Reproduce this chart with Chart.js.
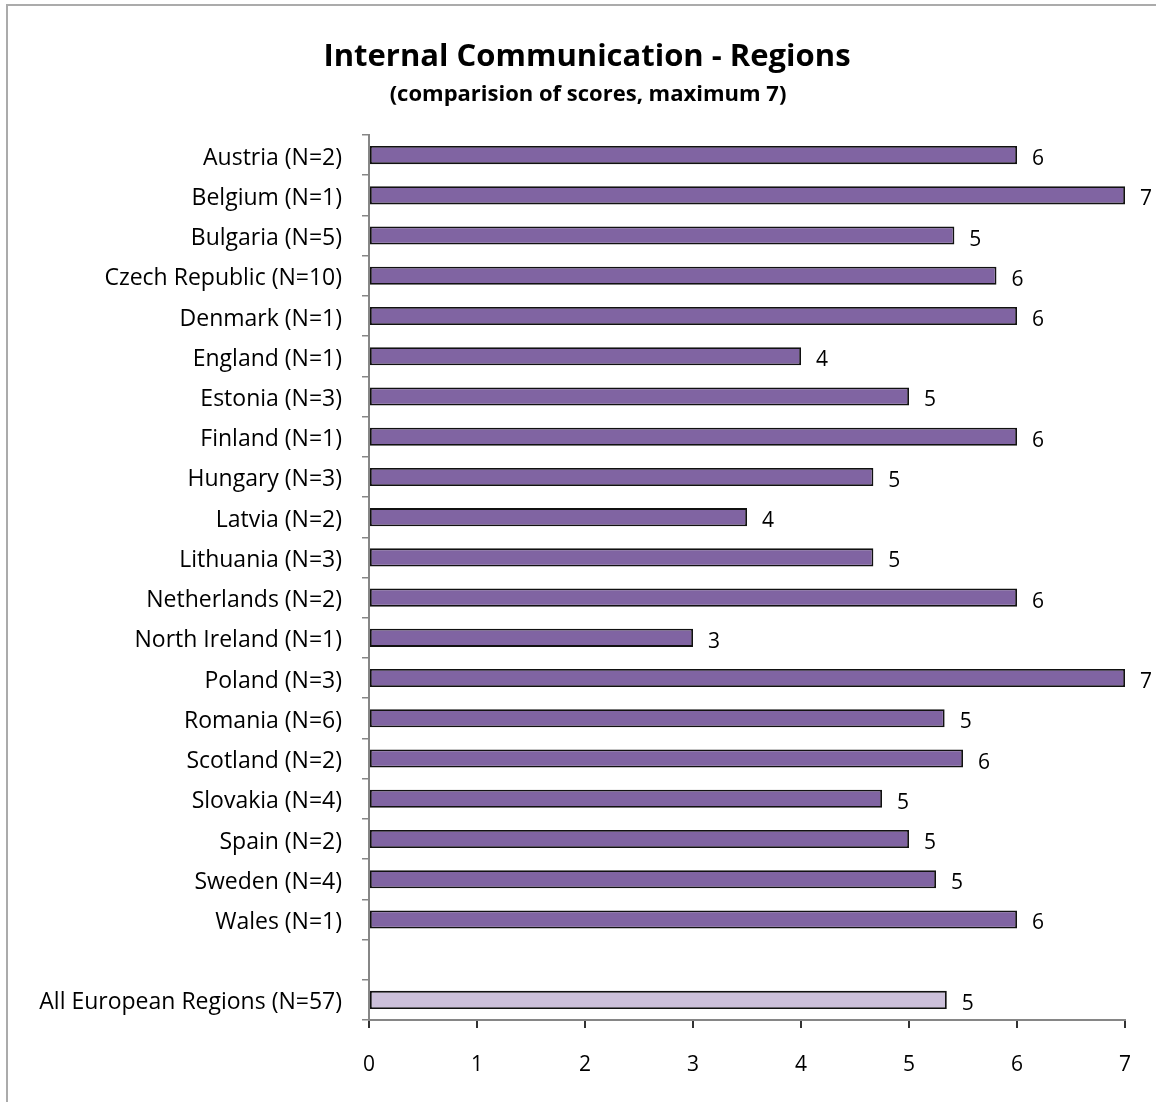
<!DOCTYPE html>
<html>
<head>
<meta charset="utf-8">
<script src="https://cdn.jsdelivr.net/npm/chart.js@4/dist/chart.umd.min.js"></script>
<style>
  body { margin: 0; background: #fff; }
  #frame { position: absolute; left: 6px; top: 4px; width: 1200px; height: 1200px;
           border-left: 2px solid #ababab; border-top: 2px solid #ababab; }
  #wrap { position: absolute; left: 0; top: 0; width: 1156px; height: 1102px; }
</style>
</head>
<body>
<div id="frame"></div>
<div id="wrap"><canvas id="regionsChart"></canvas></div>
<script>
// Region names with sample size, the blank entry leaves a gap before the overall bar
var regions = ["Austria (N=2)", "Belgium (N=1)", "Bulgaria (N=5)", "Czech Republic (N=10)",
    "Denmark (N=1)", "England (N=1)", "Estonia (N=3)", "Finland (N=1)", "Hungary (N=3)",
    "Latvia (N=2)", "Lithuania (N=3)", "Netherlands (N=2)", "North Ireland (N=1)",
    "Poland (N=3)", "Romania (N=6)", "Scotland (N=2)", "Slovakia (N=4)", "Spain (N=2)",
    "Sweden (N=4)", "Wales (N=1)", "", "All European Regions (N=57)"];

// Average scores
var scores = [6, 7, 5.42, 5.81, 6, 4, 5, 6, 4.67, 3.5, 4.67, 6, 3, 7, 5.33, 5.5, 4.75, 5,
    5.25, 6, null, 5.35];

// X axis ticks
var xTicks = [0, 1, 2, 3, 4, 5, 6, 7];

var chartTitle = "Internal Communication - Regions";
var chartSubtitle = "(comparision of scores, maximum 7)";

var barColors = regions.map(function (r, i) {
    return i == regions.length - 1 ? "#CCC0DA" : "#8064A2";
});

var fontName = "'Open Sans', sans-serif";

// Writes the rounded score just right of each bar
var valueLabels = {
    id: "valueLabels",
    afterDatasetsDraw: function (chart) {
        var ctx = chart.ctx;
        var meta = chart.getDatasetMeta(0);
        ctx.save();
        ctx.font = "21px " + fontName;
        ctx.fillStyle = "#000";
        ctx.textAlign = "left";
        ctx.textBaseline = "middle";
        meta.data.forEach(function (bar, i) {
            if (scores[i] == null) return;
            ctx.fillText(String(Math.round(scores[i])), bar.x + 15, bar.y + 4);
        });
        ctx.restore();
    }
};

// Title and subtitle, centred a bit right of the canvas middle like the original
var titles = {
    id: "titles",
    afterDraw: function (chart) {
        var ctx = chart.ctx;
        ctx.save();
        ctx.fillStyle = "#000";
        ctx.textAlign = "center";
        ctx.textBaseline = "middle";
        ctx.font = "bold 31px " + fontName;
        ctx.fillText(chartTitle, 587, 57);
        ctx.font = "bold 22px " + fontName;
        ctx.fillText(chartSubtitle, 588, 95);
        ctx.restore();
    }
};

Chart.defaults.font.family = fontName;
Chart.defaults.color = "#000";

new Chart("regionsChart", {
    type: "bar",
    data: {
        labels: regions,
        datasets: [{
            data: scores,
            backgroundColor: barColors,
            borderColor: "#111",
            borderWidth: 1.8,
            borderSkipped: false,
            categoryPercentage: 1,
            barPercentage: 0.45
        }]
    },
    options: {
        indexAxis: "y",
        responsive: true,
        maintainAspectRatio: false,
        animation: false,
        layout: { padding: { left: 0, right: 31, top: 135, bottom: 0 } },
        plugins: {
            legend: { display: false },
            tooltip: { enabled: false },
            title: { display: false }
        },
        scales: {
            x: {
                min: 0,
                max: 7,
                afterBuildTicks: function (scale) {
                    scale.ticks = xTicks.map(function (v) { return { value: v }; });
                },
                afterFit: function (scale) { scale.height = 82; },
                border: { color: "#868686", width: 2 },
                grid: { drawOnChartArea: false, tickLength: 8, color: "#333", lineWidth: 2 },
                ticks: { font: { size: 21 }, padding: 24, color: "#000" }
            },
            y: {
                afterFit: function (scale) { scale.width = 369; },
                border: { color: "#868686", width: 2 },
                grid: { drawOnChartArea: false, tickLength: 7, color: "#868686", lineWidth: 1.5, offset: true },
                ticks: { font: { size: 23 }, padding: 20, labelOffset: 3, color: "#000", autoSkip: false }
            }
        }
    },
    plugins: [valueLabels, titles]
});
</script>
</body>
</html>
